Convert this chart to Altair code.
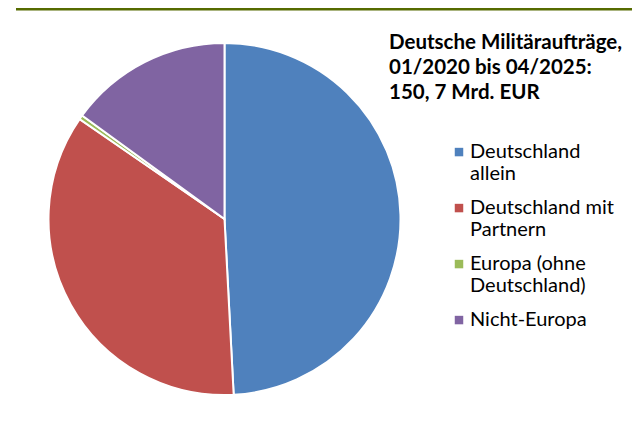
import json
import altair as alt
import pandas as pd

categories = ["Deutschland allein", "Deutschland mit Partnern", "Europa (ohne Deutschland)", "Nicht-Europa"]
values = [74.1, 53.4, 0.6, 22.6]
legend_lines = [["Deutschland", "allein"], ["Deutschland mit", "Partnern"], ["Europa (ohne", "Deutschland)"], ["Nicht-Europa"]]
colors = ["#4f81bd", "#c0504d", "#9bbb59", "#8064a2"]
title_lines = ["Deutsche Militäraufträge,", "01/2020 bis 04/2025:", "150, 7 Mrd. EUR"]

df = pd.DataFrame({"Kategorie": categories, "Wert": values, "Ordnung": list(range(len(categories)))})
one = pd.DataFrame({"k": [0]})

label_expr = " : ".join(
    f"datum.label === {json.dumps(c, ensure_ascii=False)} ? {json.dumps(l, ensure_ascii=False)}"
    for c, l in zip(categories, legend_lines)
) + " : datum.label"

legend = alt.Legend(
    title=None, orient="none", legendX=441, legendY=140, padding=0,
    symbolType="M-1,-2.4H1V-0.4H-1Z", symbolSize=72, symbolStrokeWidth=0,
    labelFont="Lato", labelFontSize=20, labelColor="#000000", labelBaseline="alphabetic",
    labelOffset=1, rowPadding=14, labelExpr=label_expr, labelLimit=300,
)

pie = alt.Chart(df).mark_arc(radius=176, stroke="white", strokeWidth=2).encode(
    theta=alt.Theta("Wert:Q", stack=True),
    order=alt.Order("Ordnung:Q"),
    color=alt.Color("Kategorie:N", scale=alt.Scale(domain=categories, range=colors), sort=categories, legend=legend),
    x=alt.value(216.5),
    y=alt.value(211),
)

title = alt.Chart(one).mark_text(
    text=title_lines, align="left", baseline="alphabetic", font="Lato", fontSize=20.5,
    fontWeight="bold", lineHeight=25, color="black",
).encode(x=alt.value(381), y=alt.value(41))

band = alt.Chart(one).mark_rule(color="#566b00", strokeWidth=3).encode(
    x=alt.value(8), x2=alt.value(624), y=alt.value(1)
)

chart = alt.layer(band, pie, title).properties(
    width=624, height=419, autosize="none", padding=0
).configure_view(stroke=None)

chart.save("out.html", embed_options={"renderer": "svg", "actions": False})
